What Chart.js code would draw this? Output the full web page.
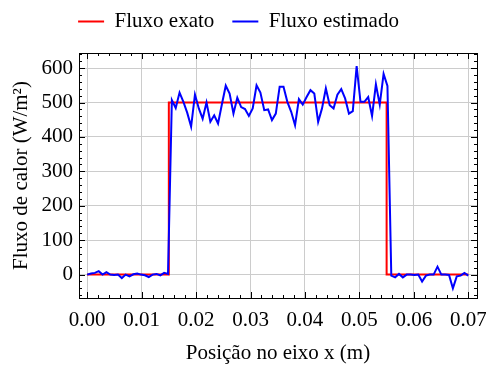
<!DOCTYPE html>
<html>
<head>
<meta charset="utf-8">
<script src="https://cdn.jsdelivr.net/npm/chart.js@4"></script>
<style>
  html, body { margin: 0; padding: 0; background: #fff; }
  #fluxChart { display: block; }
</style>
</head>
<body>
<canvas id="fluxChart" width="486" height="367"></canvas>
<script>
// sampling grid along the plate
const nodeCount = 100;
const plateLength = 0.07;

// exact heat flux: step profile
const exactX = [0, 0.015, 0.015, 0.055, 0.055, 0.07];
const exactFlux = [0, 0, 500, 500, 0, 0];

// estimated heat flux at each node
const estimatedFlux = [
  0, 3, 5, 10, 0, 7, 0, -1, 0, -10, 0, -5, 1, 3, 0, -2, -7, 0, 2, -2, 5, 2,
  507, 484, 529, 502, 470, 430, 523, 483, 453, 500, 444, 463, 439, 495, 549,
  526, 468, 514, 487, 481, 461, 483, 550, 529, 478, 480, 449, 468, 546, 546,
  502, 473, 434, 510, 494, 516, 536, 526, 444, 483, 541, 492, 483, 523, 539,
  512, 468, 475, 606, 502, 502, 516, 461, 553, 494, 583, 548,
  -3, -8, 2, -8, 0, 0, -1, 0, -20, -3, 0, 0, 23, 0, 0, -1, -40, -5, -3, 5, -3
];

const xTicks = [0, 0.01, 0.02, 0.03, 0.04, 0.05, 0.06, 0.07];
const yTicks = [0, 100, 200, 300, 400, 500, 600];

const nodeX = estimatedFlux.map((_, i) => i * plateLength / (nodeCount - 1));

const serif = "'Liberation Serif', 'DejaVu Serif', serif";
Chart.defaults.color = '#000';
Chart.defaults.font.family = serif;
Chart.defaults.font.size = 21;

// legend block keeps a fixed band above the plot
const legendBand = {
  id: 'legendBand',
  beforeLayout(chart) {
    const legend = chart.legend;
    if (!legend || legend._bandFit) return;
    const fit = legend.fit;
    legend.fit = function () {
      fit.call(this);
      this.height = 60;
    };
    legend._bandFit = true;
  }
};

// box around the plot with inward major/minor ticks on all four sides
const frameTicks = {
  id: 'frameTicks',
  afterDraw(chart) {
    const { ctx, chartArea: a, scales: { x, y } } = chart;
    ctx.save();
    ctx.strokeStyle = '#000';
    ctx.lineWidth = 1;
    ctx.beginPath();
    for (let k = 0; k <= 35; k++) {
      const px = Math.round(x.getPixelForValue(k * 0.002)) + 0.5;
      const len = k % 5 === 0 ? 6 : 3;
      ctx.moveTo(px, a.bottom); ctx.lineTo(px, a.bottom - len);
      ctx.moveTo(px, a.top); ctx.lineTo(px, a.top + len);
    }
    for (let v = -60; v <= 640; v += 20) {
      const py = Math.round(y.getPixelForValue(v)) + 0.5;
      const len = v % 100 === 0 ? 6 : 3;
      ctx.moveTo(a.left, py); ctx.lineTo(a.left + len, py);
      ctx.moveTo(a.right, py); ctx.lineTo(a.right - len, py);
    }
    ctx.stroke();
    ctx.strokeRect(Math.round(a.left) + 0.5, Math.round(a.top) + 0.5,
      Math.round(a.right - a.left), Math.round(a.bottom - a.top));
    ctx.restore();
  }
};

new Chart(document.getElementById('fluxChart'), {
  type: 'line',
  data: {
    datasets: [
      {
        label: 'Fluxo exato',
        data: exactX.map((v, i) => ({ x: v, y: exactFlux[i] })),
        borderColor: '#ff0000',
        backgroundColor: '#ff0000',
        borderWidth: 2,
        pointRadius: 0,
        order: 1
      },
      {
        label: 'Fluxo estimado',
        data: nodeX.map((v, i) => ({ x: v, y: estimatedFlux[i] })),
        borderColor: '#0000ff',
        backgroundColor: '#0000ff',
        borderWidth: 2,
        pointRadius: 0,
        order: 0
      }
    ]
  },
  options: {
    responsive: false,
    animation: false,
    layout: { padding: { left: 0, right: 9, top: -7, bottom: 0 } },
    plugins: {
      tooltip: { enabled: false },
      legend: {
        position: 'top',
        labels: {
          usePointStyle: true,
          pointStyle: 'line',
          pointStyleWidth: 26,
          padding: 18,
          sort: (a, b) => a.datasetIndex - b.datasetIndex
        }
      }
    },
    scales: {
      x: {
        type: 'linear',
        min: -0.0015,
        max: 0.0716,
        afterBuildTicks: s => { s.ticks = xTicks.map(v => ({ value: v })); },
        afterFit: s => { s.height = 69; s.paddingLeft = 0; s.paddingRight = 0; },
        ticks: { padding: 10, callback: v => v.toFixed(2) },
        grid: { color: '#cccccc', drawTicks: false },
        border: { display: false },
        title: {
          display: true,
          text: 'Posição no eixo x (m)',
          padding: { top: 0, bottom: 1 }
        }
      },
      y: {
        min: -68,
        max: 644,
        afterBuildTicks: s => { s.ticks = yTicks.map(v => ({ value: v })); },
        afterFit: s => { s.width = 79; s.paddingTop = 0; s.paddingBottom = 0; },
        ticks: { padding: 6 },
        grid: { color: '#cccccc', drawTicks: false },
        border: { display: false },
        title: {
          display: true,
          text: 'Fluxo de calor (W/m²)',
          padding: { top: 9, bottom: 0 }
        }
      }
    }
  },
  plugins: [legendBand, frameTicks]
});
</script>
</body>
</html>
